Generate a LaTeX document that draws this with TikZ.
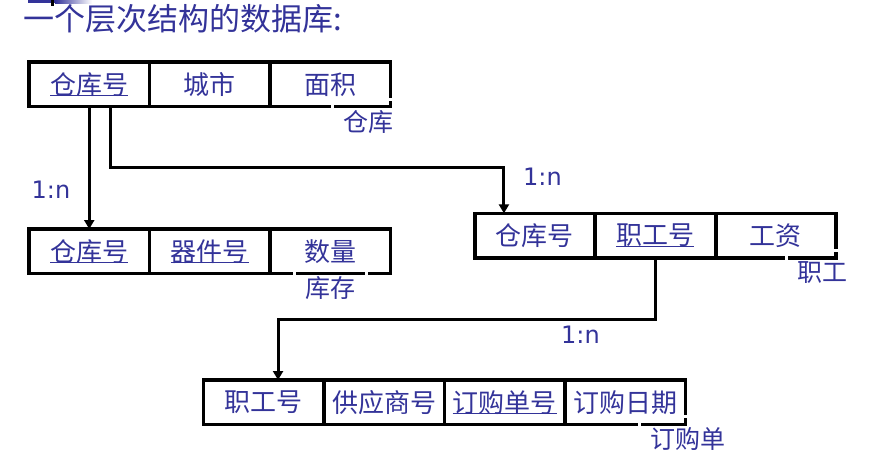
\documentclass[tikz,border=0pt]{standalone}
\usepackage{fontspec}
\setmainfont{Noto Sans CJK SC}
\newfontfamily\ratiofont{DejaVu Sans}
\usetikzlibrary{arrows.meta,positioning}
\definecolor{slideblue}{RGB}{51,51,153}
\newcommand{\keyattr}[1]{\setbox0\hbox{#1}\rlap{\rule[-2.2pt]{\wd0}{1.1pt}}\box0}

\begin{document}
\begin{tikzpicture}[
    x=1pt, y=-1pt,
    cell/.style={draw, line width=3.6pt, minimum width=120.5pt, minimum height=44.5pt,
                 inner sep=0pt, outer sep=0pt, text=slideblue, font=\fontsize{26}{30}\selectfont},
    tname/.style={draw=white, line width=3pt, inner sep=11pt, text=slideblue,
                  font=\fontsize{25}{30}\selectfont},
    card/.style={text=slideblue, inner sep=0pt, font=\ratiofont\fontsize{24}{28}\selectfont},
    arr/.style={-{Triangle[length=9pt,width=10pt]}, line width=3pt}
  ]
  \useasboundingbox (0,0) rectangle (872,456);
  \fill[slideblue] (28,0) rectangle (55,3);
  \shade[left color=slideblue, right color=white] (55,0) rectangle (92,3);
  \fill (51,0) rectangle (53.5,6);
  \node[anchor=west, inner sep=0pt, text=slideblue, font=\fontsize{31}{36}\selectfont]
    (title) at (23,19) {一个层次结构的数据库:};

  \node[cell, anchor=north west] (w1) at (29,62) {\keyattr{仓库号}};
  \node[cell, right=0pt of w1] (w2) {城市};
  \node[cell, right=0pt of w2] (w3) {面积};

  \node[cell, anchor=north west] (s1) at (29,229) {\keyattr{仓库号}};
  \node[cell, right=0pt of s1] (s2) {\keyattr{器件号}};
  \node[cell, right=0pt of s2] (s3) {数量};

  \node[cell, anchor=north west] (e1) at (474.7,213.3) {仓库号};
  \node[cell, right=0pt of e1] (e2) {\keyattr{职工号}};
  \node[cell, right=0pt of e2] (e3) {工资};

  \node[cell, anchor=north west] (o1) at (203.3,380) {职工号};
  \node[cell, right=0pt of o1] (o2) {供应商号};
  \node[cell, right=0pt of o2] (o3) {\keyattr{订购单号}};
  \node[cell, right=0pt of o3] (o4) {订购日期};

  \coordinate (k1) at (300,167);
  \coordinate (k2) at (450,319);
  \draw[arr] (w1) -- (s1);
  \draw[arr] ([xshift=21pt]w1.south) |- (k1) -| ([xshift=-31pt]e1.north);
  \draw[arr] (e2.south) |- (k2) -| ([xshift=14.5pt]o1.north);

  \node[card] (r1) at (51,190) {1:n};
  \node[card] (r2) at (542.5,177) {1:n};
  \node[card] (r3) at (580.5,335) {1:n};

  \node[tname] (n1) at (368,122) {仓库};
  \node[tname] (n2) at (330,288.5) {库存};
  \node[tname] (n3) at (822,272.5) {职工};
  \node[tname] (n4) at (687.5,439) {订购单};
\end{tikzpicture}
\end{document}
